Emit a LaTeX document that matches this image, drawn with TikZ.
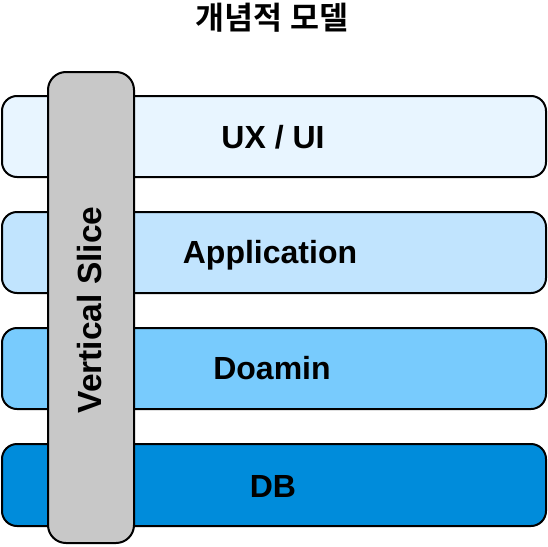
\documentclass[tikz,border=0pt]{standalone}
\usepackage{fontspec}
\setmainfont{Liberation Sans}
\newfontfamily\krfont{Noto Sans CJK KR}[BoldFont={* Bold}]
\definecolor{cA}{HTML}{E8F5FF}
\definecolor{cB}{HTML}{C1E4FE}
\definecolor{cC}{HTML}{78CBFD}
\definecolor{cD}{HTML}{008CDB}
\definecolor{cS}{HTML}{C8C8C8}
\begin{document}
\begin{tikzpicture}[x=1pt,y=-1pt,
  layer/.style={draw=black,line width=2pt,rounded corners=15pt},
  slicebox/.style={draw=black,line width=2pt,fill=cS,rounded corners=18pt},
  lbl/.style={font=\bfseries\fontsize{32}{34}\selectfont,inner sep=0pt,anchor=base}]
\useasboundingbox (0,0) rectangle (548,546);
\node[font=\krfont\bfseries\fontsize{31.5}{33}\selectfont,inner sep=0pt] (title) at (272,18) {개념적 모델};
\draw[layer,fill=cA] (2,96) rectangle (546,177);
\draw[layer,fill=cB] (2,212) rectangle (546,293);
\draw[layer,fill=cC] (2,328) rectangle (546,409);
\draw[layer,fill=cD] (2,444) rectangle (546,526);
\draw[slicebox] (48,72) rectangle (134,543);
\node[lbl] (ux) at (273,148.5) {UX / UI};
\node[lbl] (app) at (270,263.5) {Application};
\node[lbl] (dom) at (272,379.5) {Doamin};
\node[lbl] (db) at (273,497.5) {DB};
\node[font=\bfseries\fontsize{33.5}{35}\selectfont,inner sep=0pt,rotate=90] (vs) at (90,310) {Vertical Slice};
\end{tikzpicture}
\end{document}
